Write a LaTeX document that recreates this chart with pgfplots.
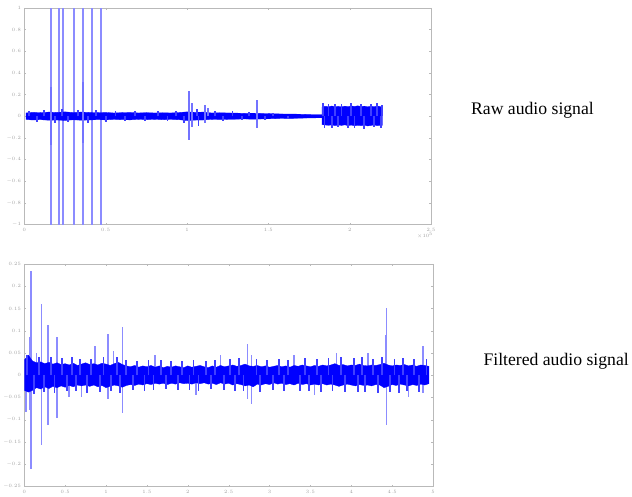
\documentclass[border=0pt]{standalone}
\usepackage{fontspec}
\setmainfont{Liberation Serif}
\usepackage{pgfplots}
\pgfplotsset{compat=1.18}

\pgfplotsset{
  sig/.style={
    scale only axis,
    axis line style={gray!55},
    tick style={gray!55, line width=0.3pt},
    tick align=inside,
    major tick length=2bp,
    ticklabel style={font=\fontsize{3.5}{4}\selectfont, text=gray!75},
    /pgf/number format/fixed,
    clip=true,
  },
}

\begin{document}
\begin{tikzpicture}
\path (0bp,0bp) rectangle (632bp,499bp);

% raw signal
\begin{axis}[sig,
  at={(16bp,271bp)}, anchor=south west,
  width=413bp, height=220bp,
  xmin=0, xmax=2.5, ymin=-1, ymax=1,
  xtick={0,0.5,1,1.5,2,2.5},
  ytick={-1,-0.8,-0.6,-0.4,-0.2,0,0.2,0.4,0.6,0.8,1},
]
  % clicks reaching full scale
  \addplot[ycomb, blue!45, line width=2bp] coordinates {
    (0.165,1) (0.165,-1) (0.216,1) (0.216,-1) (0.240,1) (0.240,-1)
    (0.307,1) (0.307,-1) (0.363,1) (0.363,-1) (0.418,1) (0.418,-1)
    (0.474,1) (0.474,-1)
  };
  % noise band
  \addplot[draw=blue, fill=blue, line width=0.3pt] coordinates {
    (0.01,0.030) (0.05,0.036) (0.10,0.033) (0.15,0.038) (0.20,0.035)
    (0.25,0.040) (0.30,0.034) (0.35,0.038) (0.40,0.035) (0.45,0.033)
    (0.50,0.035) (0.55,0.030) (0.60,0.033) (0.65,0.035) (0.70,0.030)
    (0.75,0.033) (0.80,0.030) (0.85,0.032) (0.90,0.030) (0.95,0.034)
    (1.00,0.040) (1.05,0.036) (1.10,0.038) (1.15,0.030) (1.20,0.032)
    (1.25,0.030) (1.30,0.029) (1.35,0.026) (1.40,0.028) (1.45,0.026)
    (1.50,0.024) (1.55,0.022) (1.60,0.020) (1.65,0.020) (1.70,0.018)
    (1.75,0.016) (1.80,0.015) (1.83,0.015)
    (1.83,0.085) (1.85,0.092) (1.87,0.088) (1.89,0.094) (1.91,0.087)
    (1.93,0.091) (1.95,0.086) (1.97,0.093) (1.99,0.088) (2.01,0.095)
    (2.03,0.090) (2.05,0.096) (2.07,0.089) (2.09,0.093) (2.11,0.087)
    (2.13,0.092) (2.15,0.088) (2.17,0.094) (2.19,0.089) (2.20,0.090)
    (2.20,-0.085) (2.19,-0.082) (2.17,-0.088) (2.15,-0.080) (2.13,-0.086)
    (2.11,-0.090) (2.09,-0.083) (2.07,-0.088) (2.05,-0.084) (2.03,-0.089)
    (2.01,-0.082) (1.99,-0.087) (1.97,-0.080) (1.95,-0.085) (1.93,-0.081)
    (1.91,-0.087) (1.89,-0.080) (1.87,-0.084) (1.85,-0.081) (1.83,-0.078)
    (1.83,-0.015) (1.80,-0.015) (1.75,-0.016) (1.70,-0.018) (1.65,-0.020)
    (1.60,-0.020) (1.55,-0.022) (1.50,-0.024) (1.45,-0.026) (1.40,-0.028)
    (1.35,-0.025) (1.30,-0.028) (1.25,-0.029) (1.20,-0.031) (1.15,-0.029)
    (1.10,-0.035) (1.05,-0.036) (1.00,-0.040) (0.95,-0.032) (0.90,-0.030)
    (0.85,-0.032) (0.80,-0.029) (0.75,-0.032) (0.70,-0.029) (0.65,-0.034)
    (0.60,-0.032) (0.55,-0.030) (0.50,-0.034) (0.45,-0.032) (0.40,-0.035)
    (0.35,-0.037) (0.30,-0.033) (0.25,-0.039) (0.20,-0.035) (0.15,-0.037)
    (0.10,-0.032) (0.05,-0.035) (0.01,-0.030)
  };
  % texture of the noise
  \addplot[ycomb, blue!75, line width=1.8bp] coordinates {
    (0.03,0.050) (0.08,-0.050) (0.12,0.055) (0.19,-0.060) (0.23,0.065)
    (0.27,-0.055) (0.33,0.060) (0.39,-0.065) (0.44,0.055) (0.50,-0.050)
    (0.56,0.045) (0.62,-0.045) (0.68,0.050) (0.74,-0.040) (0.82,0.045)
    (0.88,-0.040) (0.93,0.050) (0.98,-0.060) (1.06,0.070) (1.07,-0.090)
    (1.17,0.045) (1.22,-0.040) (1.28,0.045) (1.34,-0.035) (1.38,0.040)
    (1.48,-0.035) (1.53,0.030) (1.62,-0.028)
    (1.835,0.120) (1.845,-0.105) (1.87,0.115) (1.89,-0.110) (1.91,0.110)
    (1.93,-0.100) (1.95,0.115) (1.99,-0.105) (2.01,0.120) (2.03,-0.110)
    (2.07,0.115) (2.09,-0.120) (2.13,0.110) (2.15,-0.100) (2.17,0.120)
    (2.19,-0.105) (2.20,0.100)
  };
  % smaller bursts
  \addplot[ycomb, blue!55, line width=1.8bp] coordinates {
    (0.165,0.27) (0.165,-0.27) (0.363,0.32) (0.363,-0.25)
    (1.01,0.23) (1.01,-0.22) (1.03,0.12) (1.03,-0.10)
    (1.11,0.10) (1.11,-0.06) (1.13,0.08) (1.43,0.15) (1.43,-0.11)
  };
\end{axis}
\node[font=\fontsize{4}{4}\selectfont, text=gray!75] at (423bp,260bp) {$\times10^{5}$};
\node[font=\fontsize{18}{20}\selectfont] at (532bp,387bp) {Raw audio signal};

% filtered signal
\begin{axis}[sig,
  at={(16bp,5bp)}, anchor=south west,
  width=415bp, height=226bp,
  xmin=0, xmax=5, ymin=-0.25, ymax=0.25,
  xtick={0,0.5,1,1.5,2,2.5,3,3.5,4,4.5,5},
  ytick={-0.25,-0.2,-0.15,-0.1,-0.05,0,0.05,0.1,0.15,0.2,0.25},
  yticklabel style={/pgf/number format/precision=2},
]
  \addplot[ycomb, blue!45, line width=1.8bp] coordinates {
    (0.02,-0.082) (0.064,0.087) (0.064,-0.079) (0.08,0.234) (0.08,-0.21)
    (0.21,0.161) (0.21,-0.156) (0.29,0.113) (0.29,-0.112)
    (0.40,0.087) (0.40,-0.097) (0.86,0.066) (1.02,0.093) (1.02,-0.053)
    (1.09,0.055) (1.20,0.109) (1.20,-0.085) (2.73,0.070) (2.73,-0.053)
    (2.78,-0.064) (2.78,0.045) (3.82,0.050) (4.42,0.090) (4.43,0.150)
    (4.43,-0.112) (4.88,0.065) (4.88,-0.040)
    (0.15,0.050) (0.55,-0.050) (0.70,-0.050) (1.60,0.045) (2.10,-0.045)
    (2.40,0.045) (3.30,0.045) (3.55,-0.045) (4.20,0.050) (4.70,-0.050)
  };
  \addplot[draw=blue, fill=blue, line width=0.3pt] coordinates {
    (0.00,0.034) (0.05,0.045) (0.10,0.032) (0.15,0.028) (0.20,0.030)
    (0.25,0.026) (0.30,0.029) (0.35,0.025) (0.40,0.028) (0.45,0.024)
    (0.50,0.026) (0.55,0.023) (0.60,0.027) (0.65,0.022) (0.70,0.025)
    (0.75,0.028) (0.80,0.024) (0.85,0.026) (0.90,0.023) (0.95,0.027)
    (1.00,0.025) (1.05,0.022) (1.10,0.026) (1.15,0.029) (1.20,0.024)
    (1.25,0.021) (1.30,0.019) (1.35,0.022) (1.40,0.018) (1.45,0.021)
    (1.50,0.019) (1.55,0.022) (1.60,0.018) (1.65,0.021) (1.70,0.017)
    (1.75,0.020) (1.80,0.018) (1.85,0.021) (1.90,0.019) (1.95,0.017)
    (2.00,0.021) (2.05,0.018) (2.10,0.020) (2.15,0.022) (2.20,0.019)
    (2.25,0.017) (2.30,0.021) (2.35,0.018) (2.40,0.022) (2.45,0.019)
    (2.50,0.021) (2.55,0.023) (2.60,0.020) (2.65,0.022) (2.70,0.025)
    (2.75,0.021) (2.80,0.020) (2.85,0.022) (2.90,0.019) (2.95,0.021)
    (3.00,0.018) (3.05,0.020) (3.10,0.022) (3.15,0.019) (3.20,0.021)
    (3.25,0.018) (3.30,0.022) (3.35,0.020) (3.40,0.023) (3.45,0.021)
    (3.50,0.019) (3.55,0.022) (3.60,0.020) (3.65,0.023) (3.70,0.021)
    (3.75,0.023) (3.80,0.026) (3.85,0.022) (3.90,0.024) (3.95,0.021)
    (4.00,0.023) (4.05,0.022) (4.10,0.025) (4.15,0.022) (4.20,0.021)
    (4.25,0.023) (4.30,0.022) (4.35,0.024) (4.40,0.027) (4.45,0.023)
    (4.50,0.021) (4.55,0.023) (4.60,0.022) (4.65,0.024) (4.70,0.021)
    (4.75,0.023) (4.80,0.020) (4.85,0.023) (4.90,0.022) (4.95,0.020)
    (4.95,-0.019) (4.90,-0.022) (4.85,-0.020) (4.80,-0.023) (4.75,-0.021)
    (4.70,-0.024) (4.65,-0.022) (4.60,-0.020) (4.55,-0.023) (4.50,-0.021)
    (4.45,-0.025) (4.40,-0.028) (4.35,-0.022) (4.30,-0.021) (4.25,-0.024)
    (4.20,-0.022) (4.15,-0.023) (4.10,-0.021) (4.05,-0.024) (4.00,-0.022)
    (3.95,-0.020) (3.90,-0.022) (3.85,-0.025) (3.80,-0.022) (3.75,-0.020)
    (3.70,-0.022) (3.65,-0.019) (3.60,-0.022) (3.55,-0.020) (3.50,-0.022)
    (3.45,-0.019) (3.40,-0.021) (3.35,-0.018) (3.30,-0.022) (3.25,-0.019)
    (3.20,-0.021) (3.15,-0.018) (3.10,-0.020) (3.05,-0.017) (3.00,-0.021)
    (2.95,-0.019) (2.90,-0.022) (2.85,-0.020) (2.80,-0.026) (2.75,-0.022)
    (2.70,-0.024) (2.65,-0.021) (2.60,-0.019) (2.55,-0.022) (2.50,-0.018)
    (2.45,-0.020) (2.40,-0.017) (2.35,-0.021) (2.30,-0.018) (2.25,-0.020)
    (2.20,-0.017) (2.15,-0.019) (2.10,-0.017) (2.05,-0.020) (2.00,-0.018)
    (1.95,-0.019) (1.90,-0.017) (1.85,-0.020) (1.80,-0.018) (1.75,-0.021)
    (1.70,-0.018) (1.65,-0.020) (1.60,-0.018) (1.55,-0.021) (1.50,-0.019)
    (1.45,-0.022) (1.40,-0.020) (1.35,-0.023) (1.30,-0.021) (1.25,-0.023)
    (1.20,-0.027) (1.15,-0.024) (1.10,-0.022) (1.05,-0.025) (1.00,-0.028)
    (0.95,-0.023) (0.90,-0.026) (0.85,-0.022) (0.80,-0.025) (0.75,-0.022)
    (0.70,-0.024) (0.65,-0.022) (0.60,-0.026) (0.55,-0.023) (0.50,-0.027)
    (0.45,-0.024) (0.40,-0.028) (0.35,-0.025) (0.30,-0.030) (0.25,-0.026)
    (0.20,-0.031) (0.15,-0.028) (0.10,-0.034) (0.05,-0.038) (0.00,-0.034)
  };
  % texture of the noise
  \addplot[ycomb, blue!75, line width=1.8bp] coordinates {
    (0.03,0.045) (0.12,-0.042) (0.18,0.040) (0.24,-0.038) (0.33,0.042)
    (0.37,-0.040) (0.46,0.038) (0.52,-0.036) (0.58,0.040) (0.63,-0.035)
    (0.68,0.037) (0.77,-0.040) (0.82,0.036) (0.93,-0.037) (0.97,0.040)
    (1.06,-0.036) (1.13,0.042) (1.17,-0.040) (1.24,0.035) (1.33,-0.034)
    (1.38,0.033) (1.47,-0.035) (1.52,0.034) (1.58,-0.033) (1.67,0.035)
    (1.73,-0.032) (1.79,0.033) (1.88,-0.034) (1.93,0.032) (2.02,-0.033)
    (2.07,0.034) (2.13,-0.036) (2.22,0.033) (2.28,-0.032) (2.33,0.035)
    (2.44,-0.034) (2.52,0.036) (2.58,-0.035) (2.63,0.038) (2.68,-0.036)
    (2.84,0.036) (2.88,-0.037) (2.97,0.035) (3.04,-0.034) (3.12,0.036)
    (3.18,-0.035) (3.23,0.034) (3.37,-0.036) (3.43,0.038) (3.48,-0.035)
    (3.58,0.036) (3.63,-0.037) (3.72,0.038) (3.77,-0.036) (3.87,0.040)
    (3.92,-0.038) (4.03,0.038) (4.08,-0.037) (4.13,0.040) (4.17,-0.038)
    (4.27,0.037) (4.33,-0.039) (4.38,0.040) (4.47,-0.038) (4.53,0.037)
    (4.58,-0.039) (4.63,0.038) (4.68,-0.036) (4.77,0.037) (4.83,-0.038)
    (4.92,0.036)
  };
\end{axis}
\node[font=\fontsize{18}{20}\selectfont] at (556bp,132bp) {Filtered audio signal};
\end{tikzpicture}
\end{document}
